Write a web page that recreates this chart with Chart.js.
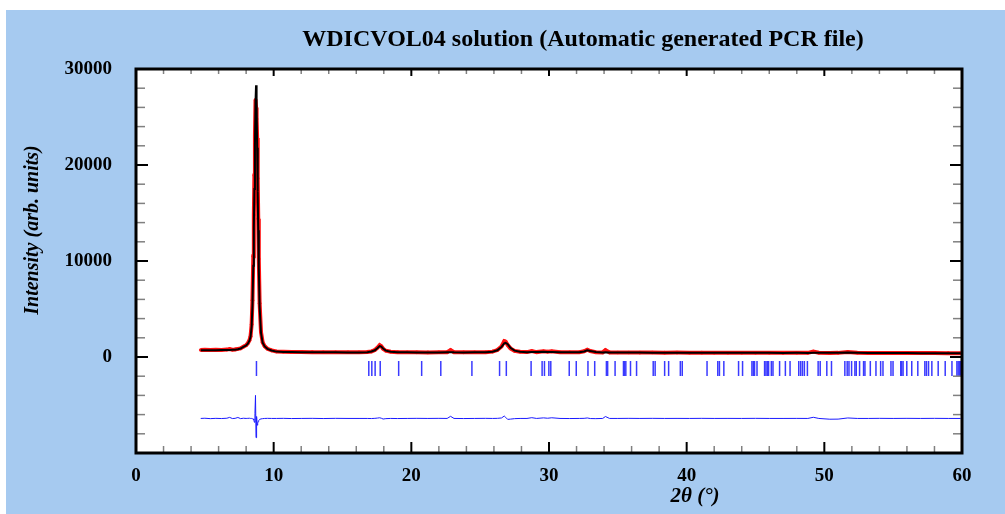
<!DOCTYPE html>
<html>
<head>
<meta charset="utf-8">
<title>WDICVOL04 solution</title>
<script src="https://cdn.jsdelivr.net/npm/chart.js@4.4.1/dist/chart.umd.min.js"></script>
<style>
  html, body { margin: 0; padding: 0; background: #fff; }
  canvas { display: block; }
</style>
</head>
<body>
<canvas id="rietveld" width="1005" height="514"></canvas>
<script>
// ---- data ----
const twoTheta = [4.70, 5.00, 5.40, 5.80, 6.20, 6.60, 6.80, 7.00, 7.20, 7.40, 7.60, 7.80, 8.00, 8.12, 8.24, 8.32, 8.40, 8.46, 8.52, 8.56,
  8.60, 8.64, 8.68, 8.72, 8.76, 8.80, 8.84, 8.88, 8.92, 8.98, 9.08, 9.20, 9.35, 9.55, 9.85, 10.2, 10.7, 11.3, 12.0, 12.8,
  13.6, 14.5, 15.4, 16.2, 16.8, 17.1, 17.35, 17.55, 17.70, 17.82, 17.95, 18.15, 18.5, 19.0, 19.7, 20.4, 21.2, 22.0, 22.6, 22.85,
  23.1, 23.8, 24.6, 25.4, 25.9, 26.25, 26.55, 26.75, 26.85, 27.0, 27.2, 27.5, 27.9, 28.4, 28.75, 29.1, 29.6, 29.9, 30.2, 30.8,
  31.5, 32.2, 32.55, 32.78, 33.0, 33.4, 33.9, 34.1, 34.4, 35.0, 35.8, 36.6, 37.5, 38.4, 39.3, 40.2, 41.1, 42.0, 43.0, 44.0,
  45.0, 46.0, 47.0, 48.0, 48.8, 49.2, 49.6, 50.4, 51.0, 51.7, 52.4, 53.2, 54.0, 55.0, 56.0, 57.0, 58.0, 59.0, 59.9];

const yObs = [730, 745, 720, 760, 735, 770, 820, 760, 790, 850, 900, 1080, 1230, 1420, 1750, 2150, 3400, 5900, 10500, 14800,
  18900, 23000, 26800, 26000, 24800, 22800, 18600, 14400, 10200, 5600, 2600, 1520, 1110, 860, 690, 570, 540, 520, 510, 505,
  495, 500, 490, 495, 520, 580, 720, 980, 1230, 1120, 860, 650, 540, 505, 490, 485, 480, 490, 495, 720,
  490, 485, 490, 500, 560, 720, 1100, 1650, 1600, 1250, 900, 640, 540, 510, 620, 510, 600, 560, 590, 500,
  490, 500, 600, 760, 620, 500, 480, 720, 480, 470, 475, 460, 470, 455, 460, 450, 455, 445, 450, 440,
  445, 440, 430, 440, 430, 560, 440, 425, 430, 510, 440, 420, 425, 415, 420, 405, 410, 400, 395];

const yCalc = [700, 705, 710, 715, 720, 730, 740, 750, 765, 800, 880, 1050, 1200, 1380, 1700, 2100, 3200, 5400, 9500, 13500,
  17500, 22000, 26500, 28300, 26300, 21800, 17200, 13200, 9300, 5200, 2500, 1500, 1100, 850, 680, 560, 530, 515, 505, 495,
  490, 485, 480, 480, 505, 570, 700, 930, 1140, 1090, 880, 660, 540, 500, 485, 480, 475, 480, 490, 500,
  485, 480, 485, 495, 545, 700, 1050, 1420, 1480, 1330, 960, 660, 540, 505, 530, 510, 540, 530, 520, 495,
  485, 495, 580, 700, 620, 510, 480, 490, 480, 470, 465, 460, 455, 450, 448, 445, 440, 440, 435, 435,
  430, 430, 425, 430, 425, 440, 430, 440, 445, 470, 440, 420, 415, 410, 405, 400, 395, 390, 385];

const yDiff = [-6400, -6380, -6420, -6390, -6410, -6380, -6290, -6410, -6390, -6300, -6420, -6380, -6400, -6390, -6380, -6400, -6400, -6430, -6450, -6550,
  -6800, -5900, -4000, -8400, -6200, -7100, -6900, -6700, -6600, -6500, -6450, -6420, -6400, -6390, -6400, -6400, -6390, -6410, -6400, -6390,
  -6410, -6390, -6400, -6400, -6400, -6410, -6390, -6360, -6330, -6380, -6460, -6420, -6400, -6410, -6400, -6390, -6400, -6390, -6400, -6180,
  -6400, -6410, -6400, -6390, -6400, -6390, -6350, -6150, -6280, -6500, -6470, -6420, -6400, -6400, -6320, -6400, -6340, -6380, -6330, -6400,
  -6410, -6400, -6390, -6350, -6410, -6420, -6400, -6200, -6400, -6400, -6390, -6400, -6390, -6400, -6395, -6400, -6390, -6400, -6395, -6400,
  -6390, -6400, -6400, -6395, -6400, -6280, -6400, -6480, -6470, -6350, -6400, -6400, -6390, -6400, -6390, -6400, -6390, -6400, -6400];

const braggPos = [8.75, 16.91, 17.13, 17.37, 17.74, 19.08, 20.75, 22.14, 24.40, 26.41, 26.90, 28.70, 29.50, 29.67, 29.99, 30.13,
  31.47, 31.98, 32.83, 33.32, 34.17, 34.26, 34.80, 35.41, 35.48, 35.58, 35.92, 36.36, 37.57, 37.71, 38.40, 38.69, 39.54, 39.68,
  41.48, 42.26, 42.38, 42.70, 43.77, 44.06, 44.74, 44.84, 44.93, 45.11, 45.66, 45.76, 45.86, 45.95, 46.15, 46.27, 46.75, 47.17,
  47.51, 48.14, 48.28, 48.41, 48.55, 48.77, 49.55, 49.70, 50.18, 50.52, 51.49, 51.66, 51.79, 51.98, 52.22, 52.32, 52.56, 52.85,
  52.95, 53.34, 53.75, 54.09, 54.26, 54.84, 54.99, 55.55, 55.62, 55.72, 55.99, 56.35, 56.79, 57.30, 57.42, 57.57, 57.81, 58.27,
  58.78, 59.27, 59.63, 59.72, 59.80, 59.90];
const braggRowY = -1200;

const xTickLabels = [0, 10, 20, 30, 40, 50, 60];
const yTickLabels = [0, 10000, 20000, 30000];

const titleText = 'WDICVOL04 solution (Automatic generated PCR file)';
const yTitleText = 'Intensity (arb. units)';
const xTitleText = '2\u03b8 (\u00b0)';

const SERIF = '"Liberation Serif", "Times New Roman", serif';
const SKY = '#A6CAF0';

// helper: pair x with y
function pairs(xs, ys) {
    return xs.map((x, i) => ({ x: x, y: ys[i] }));
}

// background, plot area and the texts drawn by hand
const decorPlugin = {
    id: 'decor',
    beforeDraw(chart) {
        const ctx = chart.ctx;
        const a = chart.chartArea;
        ctx.save();
        ctx.fillStyle = '#ffffff';
        ctx.fillRect(0, 0, chart.width, chart.height);
        ctx.fillStyle = SKY;
        ctx.fillRect(6, 10, chart.width - 6, chart.height - 10);
        ctx.fillStyle = '#ffffff';
        ctx.fillRect(a.left, a.top, a.right - a.left, a.bottom - a.top);
        ctx.restore();
    },
    afterDraw(chart) {
        const ctx = chart.ctx;
        const a = chart.chartArea;
        const xs = chart.scales.x;
        const ys = chart.scales.y;
        ctx.save();

        // ticks pointing inwards, on all four sides
        function tick(x1, y1, x2, y2, major) {
            ctx.beginPath();
            ctx.strokeStyle = major ? '#000000' : '#808080';
            ctx.lineWidth = major ? 2 : 1.5;
            ctx.moveTo(x1, y1);
            ctx.lineTo(x2, y2);
            ctx.stroke();
        }
        for (let v = 0; v <= 60; v += 2) {
            const px = xs.getPixelForValue(v);
            const major = v % 10 === 0;
            tick(px, a.bottom, px, a.bottom - (major ? 11 : 7), major);
            tick(px, a.top, px, a.top + (major ? 7 : 5), major);
        }
        for (let v = -10000; v <= 30000; v += 2000) {
            const py = ys.getPixelForValue(v);
            const major = v % 10000 === 0;
            tick(a.left, py, a.left + (major ? 12 : 9), py, major);
            tick(a.right, py, a.right - (major ? 12 : 9), py, major);
        }

        // frame
        ctx.strokeStyle = '#000000';
        ctx.lineWidth = 3;
        ctx.strokeRect(a.left, a.top, a.right - a.left, a.bottom - a.top);

        // titles
        ctx.fillStyle = '#000000';
        ctx.textBaseline = 'middle';
        ctx.textAlign = 'center';
        ctx.font = 'bold 24px ' + SERIF;
        ctx.fillText(titleText, 583, 40);

        ctx.font = 'italic bold 21px ' + SERIF;
        ctx.fillText(xTitleText, 695, 497);

        ctx.translate(33, 230);
        ctx.rotate(-Math.PI / 2);
        ctx.font = 'italic bold 20px ' + SERIF;
        ctx.fillText(yTitleText, 0, 0);
        ctx.restore();
    }
};

const ctx = document.getElementById('rietveld').getContext('2d');
new Chart(ctx, {
    type: 'scatter',
    data: {
        datasets: [
            {
                label: 'Ycalc',
                data: pairs(twoTheta, yCalc),
                showLine: true,
                borderColor: '#000000',
                borderWidth: 2,
                pointRadius: 0,
                order: 1
            },
            {
                label: 'Yobs',
                data: pairs(twoTheta, yObs),
                showLine: true,
                borderColor: '#ff1010',
                backgroundColor: '#ff1010',
                borderWidth: 4,
                pointRadius: 1.8,
                pointBorderWidth: 0,
                order: 2
            },
            {
                label: 'Bragg',
                data: braggPos.map(p => ({ x: p, y: braggRowY })),
                showLine: false,
                pointStyle: 'line',
                rotation: 90,
                pointRadius: 7.5,
                borderColor: '#3a3aff',
                borderWidth: 1.5,
                order: 3
            },
            {
                label: 'Yobs-Ycalc',
                data: pairs(twoTheta, yDiff),
                showLine: true,
                borderColor: '#1a1aff',
                borderWidth: 1,
                pointRadius: 0,
                order: 3
            }
        ]
    },
    options: {
        responsive: false,
        animation: false,
        devicePixelRatio: 1,
        layout: { padding: { left: 0, top: 69, right: 43, bottom: 0 } },
        plugins: {
            legend: { display: false },
            title: { display: false },
            tooltip: { enabled: false }
        },
        scales: {
            x: {
                type: 'linear',
                min: 0,
                max: 60,
                afterFit: s => { s.height = 61; },
                afterBuildTicks: s => { s.ticks = xTickLabels.map(v => ({ value: v })); },
                grid: { display: false, drawTicks: false },
                border: { display: false },
                ticks: {
                    padding: 12,
                    color: '#000000',
                    font: { family: SERIF, weight: 'bold', size: 19 },
                    maxRotation: 0
                }
            },
            y: {
                type: 'linear',
                min: -10000,
                max: 30000,
                afterFit: s => { s.width = 136; },
                afterBuildTicks: s => { s.ticks = yTickLabels.map(v => ({ value: v })); },
                grid: { display: false, drawTicks: false },
                border: { display: false },
                ticks: {
                    padding: 24,
                    color: '#000000',
                    font: { family: SERIF, weight: 'bold', size: 19 },
                    callback: v => String(v)
                }
            }
        }
    },
    plugins: [decorPlugin]
});
</script>
</body>
</html>
